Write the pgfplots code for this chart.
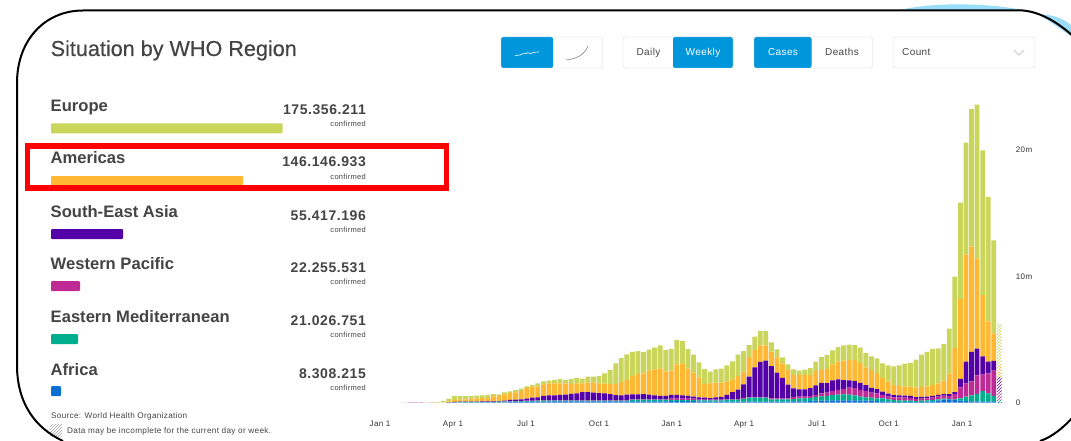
\documentclass[border=0pt]{standalone}
\usepackage{pgfplots}
\usepackage{pgfplotstable}
\pgfplotsset{compat=1.18}
\usepackage{fontspec}
\usetikzlibrary{patterns}
\setmainfont{Liberation Sans}
\newfontfamily\ls[LetterSpace=4]{Liberation Sans}
\definecolor{eu}{HTML}{C9D65B}
\definecolor{am}{HTML}{FFB833}
\definecolor{sea}{HTML}{5300A8}
\definecolor{wp}{HTML}{C02A95}
\definecolor{em}{HTML}{00AE8E}
\definecolor{af}{HTML}{0C6FD4}
\definecolor{btn}{HTML}{0096DB}
\definecolor{txt}{HTML}{444444}
\definecolor{bd}{HTML}{D6D6D6}
\pgfplotstableread{
i af em wp sea am eu
0 0 0 .01 0 0 0
1 0 0 .02 0 0 0
2 0 0 .03 0 0 0
3 0 0 .03 0 0 0
4 0 0 .01 0 0 0
5 0 0 .01 0 0 .01
6 0 0 0 0 0 .05
7 0 0 0 0 .03 .11
8 0 .01 .01 .01 .05 .24
9 .03 0 0 .03 .16 .29
10 .03 .03 0 .03 .18 .26
11 .03 .03 0 .03 .18 .24
12 .03 .03 0 .03 .24 .18
13 .03 .03 0 .03 .26 .21
14 .03 .03 .03 .03 .24 .21
15 .03 .03 .03 .03 .26 .21
16 .03 .03 .03 .03 .37 .18
17 .03 .05 0 .05 .39 .13
18 .03 .05 .03 .05 .50 .16
19 .05 .03 .03 .11 .55 .13
20 .05 .05 .03 .11 .58 .18
21 .05 .05 .03 .13 .68 .18
22 .08 .05 .03 .16 .84 .13
23 .08 .05 .03 .24 .87 .13
24 .08 .08 .03 .24 .84 .26
25 .08 .08 .03 .34 .92 .24
26 .11 .05 .03 .39 .95 .21
27 .11 .05 .03 .39 .95 .26
28 .11 .05 .03 .42 .92 .34
29 .11 .05 .03 .45 .89 .26
30 .11 .05 .03 .50 .79 .37
31 .11 .05 .05 .53 .79 .42
32 .11 .05 .05 .63 .68 .37
33 .11 .05 .05 .63 .76 .45
34 .11 .05 .05 .58 .79 .47
35 .11 .05 .05 .55 .76 .58
36 .11 .05 .05 .53 .76 .82
37 .11 .05 .05 .47 .79 1.11
38 .11 .05 .05 .39 .87 1.63
39 .11 .05 .05 .37 1.05 1.89
40 .11 .05 .05 .42 1.16 2.03
41 .11 .13 .05 .37 1.45 1.89
42 .11 .13 .05 .37 1.61 1.79
43 .11 .13 .05 .39 1.63 1.68
44 .11 .13 .05 .34 1.89 1.66
45 .11 .13 .05 .29 2.05 1.71
46 .11 .13 .05 .24 2.18 1.82
47 .11 .13 .05 .24 1.95 1.68
48 .13 .08 .11 .29 1.92 1.71
49 .13 .08 .11 .29 2.42 1.92
50 .13 .08 .11 .26 2.53 1.74
51 .13 .08 .11 .21 2.16 1.53
52 .13 .08 .11 .16 1.92 1.39
53 .08 .11 .05 .18 1.58 1.18
54 .08 .11 .05 .16 1.08 1.16
55 .08 .11 .05 .13 1.16 .92
56 .08 .11 .05 .18 1.16 1.05
57 .08 .11 .05 .21 1.13 1.11
58 .08 .16 .05 .32 1.08 1.26
59 .08 .16 .05 .55 1.00 1.42
60 .08 .16 .05 .74 1.08 1.68
61 .08 .21 .05 1.11 1.00 1.61
62 .08 .32 .05 1.61 1.53 .95
63 .08 .32 .05 2.34 1.37 1.05
64 .08 .32 .05 2.76 1.32 1.13
65 .08 .32 .05 2.87 1.21 1.13
66 .08 .18 .08 2.55 1.13 .74
67 .08 .18 .08 2.03 1.21 .63
68 .08 .18 .08 1.61 1.16 .47
69 .08 .18 .08 1.08 1.16 .45
70 .11 .18 .16 .68 1.05 .45
71 .11 .24 .13 .58 1.13 .34
72 .11 .24 .13 .58 1.13 .42
73 .13 .26 .13 .63 1.03 .55
74 .16 .29 .16 .76 1.13 .74
75 .16 .34 .24 .82 1.03 1.00
76 .16 .37 .26 .76 1.11 1.11
77 .18 .42 .32 .84 1.26 1.11
78 .18 .45 .39 .82 1.39 1.16
79 .18 .47 .45 .68 1.53 1.21
80 .18 .45 .55 .58 1.61 1.21
81 .18 .39 .58 .58 1.63 1.18
82 .16 .32 .53 .55 1.58 1.21
83 .16 .26 .50 .47 1.39 1.13
84 .16 .24 .39 .37 1.42 1.08
85 .13 .21 .39 .34 1.29 1.13
86 .11 .24 .26 .26 1.08 1.16
87 .08 .18 .21 .24 .95 1.29
88 .05 .16 .21 .18 .79 1.47
89 .05 .13 .24 .16 .74 1.63
90 .05 .11 .24 .16 .71 1.82
91 .05 .11 .21 .16 .74 1.87
92 .05 .08 .18 .13 .74 2.21
93 .05 .11 .16 .13 .79 2.55
94 .08 .11 .16 .13 .79 2.74
95 .11 .11 .18 .13 .87 2.84
96 .16 .11 .21 .13 .92 2.76
97 .24 .08 .24 .11 1.08 2.87
98 .26 .05 .21 .16 1.63 3.53
99 .21 .05 .42 .16 3.47 5.63
100 .16 .18 .87 .66 6.29 7.61
101 .13 .34 1.05 1.71 8.47 8.82
102 .11 .47 1.11 2.32 8.29 10.87
103 .11 .58 1.47 2.11 7.11 12.13
104 .08 .84 1.29 1.45 4.82 11.42
105 .08 .66 1.58 .92 3.18 9.82
106 .11 .42 2.00 .76 2.18 7.34
}\weekly
\pgfplotstableread{
i af em wp sea am eu
107 .05 .16 .66 1.11 .79 3.42
}\partial
\pgfplotsset{covid/.style={
  x=5.56pt,y=12.68pt,
  xmin=-7,xmax=109,ymin=0,ymax=25,
  anchor=south west,at={(365.48pt,-402.7pt)},
  ybar stacked,bar width=4.8pt,clip=false,
  axis line style={draw=none},
  tick style={draw=none},
  major tick length=0pt}}
\newcommand\region[6]{%
  \node[anchor=base west,inner sep=0,text=txt,font=\bfseries\fontsize{16.6}{18}\selectfont] at (50.5,#2) {#1};
  \node[anchor=base east,inner sep=0,text=txt,font=\bfseries\ls\fontsize{14}{16}\selectfont] at (366,#2+3) {#3};
  \node[anchor=base east,inner sep=0,text=txt,font=\ls\fontsize{7.5}{9}\selectfont] at (366,#2+15) {confirmed};
  \fill[#4,rounded corners=1pt] (51,#5) rectangle (#6,#5+10);}
\begin{document}
\begin{tikzpicture}[x=1pt,y=-1pt]
\path[use as bounding box] (0,0) rectangle (1071,441);
\clip (0,0) rectangle (1071,441);
\fill[white] (0,0) rectangle (1071,441);
% backdrop
\fill[cyan!40!white] (900,10) .. controls (930,2.5) and (985,2.5) .. (1023,10) -- cycle;
\fill[cyan!40!white] (1040,15) .. controls (1052,14) and (1062,18) .. (1071,25) -- (1071,36) -- cycle;
% chart
\begin{axis}[covid,
  xtick={-4.39,8.74,21.87,35,48.1,61.1,74.2,87.1,100.3},
  xticklabels={Jan 1,Apr 1,Jul 1,Oct 1,Jan 1,Apr 1,Jul 1,Oct 1,Jan 1},
  xticklabel style={font=\ls\fontsize{8}{9}\selectfont,text=black!80,text height=6pt,text depth=0pt,yshift=-14pt},
  ytick={0,10,20},
  yticklabels={0,10m,20m},
  yticklabel pos=right,
  yticklabel style={font=\ls\fontsize{8}{9}\selectfont,text=black!80,anchor=west,xshift=2pt,yshift=-.5pt}]
\addplot[fill=af,draw=none] table[x=i,y=af]{\weekly};
\addplot[fill=em,draw=none] table[x=i,y=em]{\weekly};
\addplot[fill=wp,draw=none] table[x=i,y=wp]{\weekly};
\addplot[fill=sea,draw=none] table[x=i,y=sea]{\weekly};
\addplot[fill=am,draw=none] table[x=i,y=am]{\weekly};
\addplot[fill=eu,draw=none] table[x=i,y=eu]{\weekly};
\end{axis}
\begin{axis}[covid,xtick=\empty,ytick=\empty]
\addplot[draw=none,pattern=north east lines,pattern color=af] table[x=i,y=af]{\partial};
\addplot[draw=none,pattern=north east lines,pattern color=em] table[x=i,y=em]{\partial};
\addplot[draw=none,pattern=north east lines,pattern color=wp] table[x=i,y=wp]{\partial};
\addplot[draw=none,pattern=north east lines,pattern color=sea] table[x=i,y=sea]{\partial};
\addplot[draw=none,pattern=north east lines,pattern color=am] table[x=i,y=am]{\partial};
\addplot[draw=none,pattern=north east lines,pattern color=eu] table[x=i,y=eu]{\partial};
\end{axis}
% header
\node[anchor=base west,inner sep=0,text=txt,font=\fontsize{21.6}{24}\selectfont] at (50.5,56) {\addfontfeature{FakeBold=0.4}Situation by WHO Region};
% left panel
\region{Europe}{112}{175.356.211}{eu}{123.3}{282.5}
\region{Americas}{164}{146.146.933}{am}{176}{243}
\region{South-East Asia}{217}{55.417.196}{sea}{229}{123}
\region{Western Pacific}{269}{22.255.531}{wp}{281}{80}
\region{Eastern Mediterranean}{322}{21.026.751}{em}{334}{78}
\region{Africa}{375}{8.308.215}{af}{386}{61}
\draw[red,line width=5.5pt] (27.7,146) rectangle (446.3,188);
\node[anchor=base west,inner sep=0,text=txt,font=\ls\fontsize{8.15}{9}\selectfont] at (51,418) {Source: World Health Organization};
\fill[white] (50,424) rectangle (62,436);
\fill[pattern=north east lines,pattern color=black!35] (50,424) rectangle (62,436);
\node[anchor=base west,inner sep=0,text=txt,font=\ls\fontsize{8.2}{9}\selectfont] at (67,433) {Data may be incomplete for the current day or week.};
% controls
\fill[btn,rounded corners=2pt] (501,37) rectangle (553,68);
\draw[bd,rounded corners=2pt] (501,37) rectangle (602.5,68);
\draw[white,line width=.6pt] (515,55.5) -- (520,55) .. controls (522,52) and (524,55) .. (526,53.5) .. controls (528,51) and (530,55) .. (532,53) .. controls (534,51) and (536,53) .. (539,52);
\draw[gray,line width=.6pt] (566,60) .. controls (575,59) and (584,56) .. (588,46);
\fill[btn,rounded corners=2pt] (673,37) rectangle (733,68);
\draw[bd,rounded corners=2pt] (623,37) rectangle (733,68);
\fill[btn,rounded corners=2pt] (754,37) rectangle (811.5,68);
\draw[bd,rounded corners=2pt] (754,37) rectangle (872.5,68);
\draw[bd,rounded corners=2pt] (893,37) rectangle (1035,68);
\draw[bd,line width=1.2pt] (1014,50) -- (1019,55) -- (1024,50);
\begin{scope}[every node/.style={inner sep=0,anchor=base,font=\ls\fontsize{10}{12}\selectfont}]
\node[text=txt] at (648.5,56) {Daily};
\node[text=white] at (703,56) {Weekly};
\node[text=white] at (783,56) {Cases};
\node[text=txt] at (842,56) {Deaths};
\node[text=txt,anchor=base west] at (902,56) {Count};
\end{scope}
% frame
\draw[black,line width=2pt] (63,441) .. controls (35,428) and (17,403) .. (17,365) -- (17,83) .. controls (17,40) and (45,10.5) .. (83,10.5) -- (1023,10.5) .. controls (1040,12) and (1058,22) .. (1075,38);
\draw[black,line width=2pt] (1040,441) .. controls (1052,437) and (1063,428) .. (1073,417);
\end{tikzpicture}
\end{document}
